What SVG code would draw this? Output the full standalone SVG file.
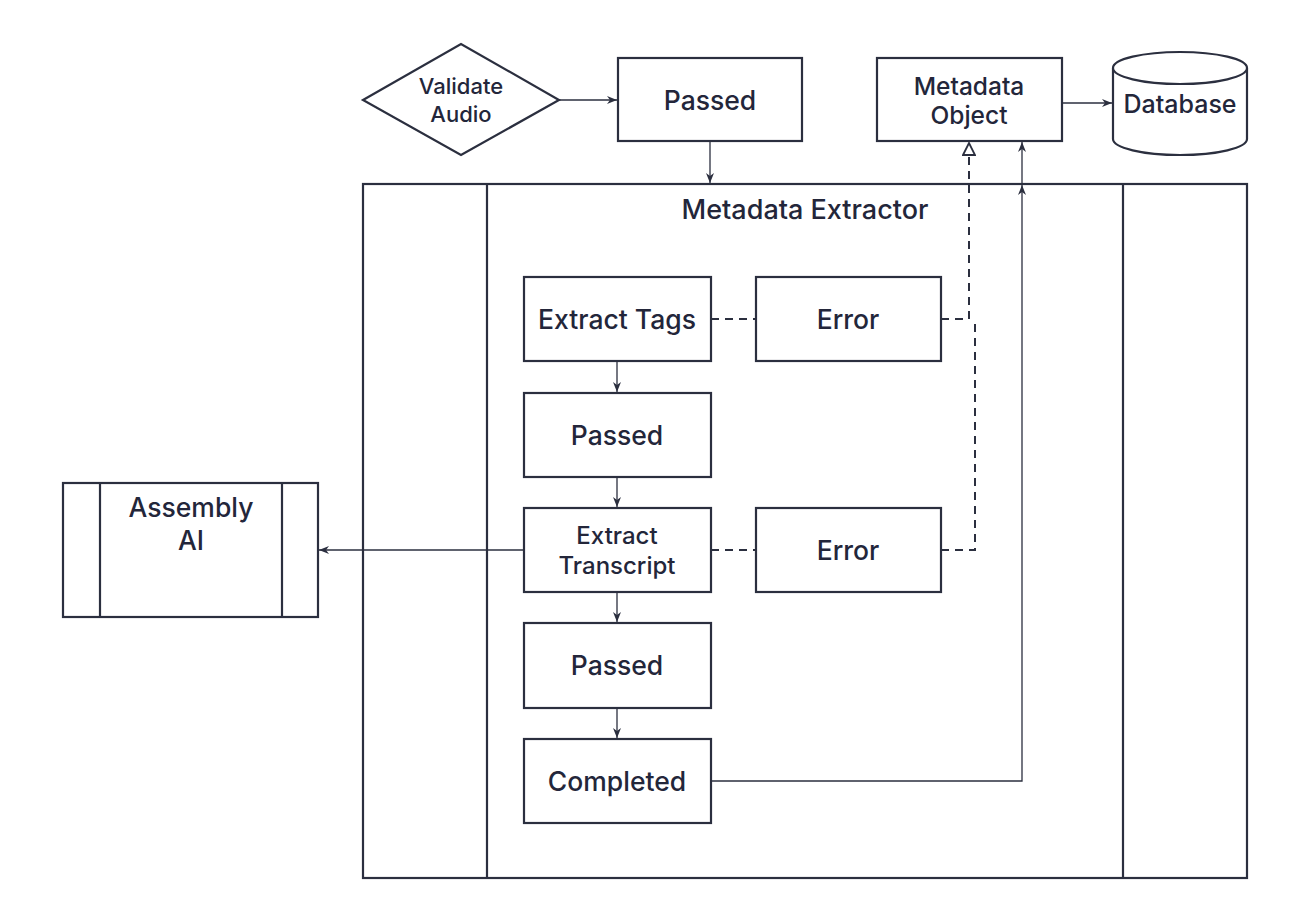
<svg xmlns="http://www.w3.org/2000/svg" width="1304" height="921" viewBox="0 0 1304 921">
<defs>
<style>
.n{fill:#fff;stroke:#2b2f3f;stroke-width:2.2}
.c{fill:none;stroke:#2b2f3f;stroke-width:1.3}
.d{fill:none;stroke:#2b2f3f;stroke-width:2;stroke-dasharray:8 6}
.t{font-family:Inter,"Noto Sans","Liberation Sans",sans-serif;font-weight:500;fill:#23263a;text-anchor:middle;dominant-baseline:central}
</style>
<marker id="a" viewBox="0 0 10 10" refX="10" refY="5" markerWidth="10" markerHeight="10" markerUnits="userSpaceOnUse" orient="auto">
<path d="M0,1 L10,5 L0,9 L3,5 Z" fill="#2b2f3f"/>
</marker>
<marker id="h" viewBox="0 0 14 14" refX="13" refY="7" markerWidth="14" markerHeight="14" markerUnits="userSpaceOnUse" orient="auto">
<path d="M1,1 L13,7 L1,13 Z" fill="#fff" stroke="#2b2f3f" stroke-width="1.8"/>
</marker>
</defs>
<rect width="1304" height="921" fill="#fff"/>

<g id="metadata-extractor">
<rect class="n" x="363" y="184" width="884" height="694"/>
<line class="n" x1="487" y1="184" x2="487" y2="878"/>
<line class="n" x1="1123" y1="184" x2="1123" y2="878"/>
<text class="t" x="805" y="209" font-size="27">Metadata Extractor</text>
</g>

<g id="validate-audio">
<polygon class="n" points="363,100 461,44 559,100 461,155"/>
<text class="t" x="461" y="86" font-size="22">Validate</text>
<text class="t" x="461" y="114" font-size="22">Audio</text>
</g>

<g id="passed-top">
<rect class="n" x="618" y="58" width="184" height="83"/>
<text class="t" x="710" y="100" font-size="26.5">Passed</text>
</g>

<g id="metadata-object">
<rect class="n" x="877" y="58" width="185" height="83"/>
<text class="t" x="969" y="86" font-size="24.5">Metadata</text>
<text class="t" x="969" y="115" font-size="24.5">Object</text>
</g>

<g id="database">
<path class="n" d="M1113,68 A67,16 0 0 1 1247,68 V139 A67,16 0 0 1 1113,139 Z"/>
<path class="n" d="M1113,68 A67,16 0 0 0 1247,68" fill="none"/>
<text class="t" x="1180" y="104" font-size="25">Database</text>
</g>

<g id="extract-tags">
<rect class="n" x="524" y="277" width="187" height="84"/>
<text class="t" x="617" y="319" font-size="26.5">Extract Tags</text>
</g>

<g id="error-1">
<rect class="n" x="756" y="277" width="185" height="84"/>
<text class="t" x="848" y="319" font-size="26.5">Error</text>
</g>

<g id="passed-1">
<rect class="n" x="524" y="393" width="187" height="84"/>
<text class="t" x="617" y="435" font-size="26.5">Passed</text>
</g>

<g id="extract-transcript">
<rect class="n" x="524" y="508" width="187" height="84"/>
<text class="t" x="617" y="535" font-size="24">Extract</text>
<text class="t" x="617" y="565" font-size="24">Transcript</text>
</g>

<g id="error-2">
<rect class="n" x="756" y="508" width="185" height="84"/>
<text class="t" x="848" y="550" font-size="26.5">Error</text>
</g>

<g id="passed-2">
<rect class="n" x="524" y="623" width="187" height="85"/>
<text class="t" x="617" y="665" font-size="26.5">Passed</text>
</g>

<g id="completed">
<rect class="n" x="524" y="739" width="187" height="84"/>
<text class="t" x="617" y="781" font-size="26.5">Completed</text>
</g>

<g id="assembly-ai">
<rect class="n" x="63" y="483" width="255" height="134"/>
<line class="n" x1="100" y1="483" x2="100" y2="617"/>
<line class="n" x1="282" y1="483" x2="282" y2="617"/>
<text class="t" x="191" y="507" font-size="26.5">Assembly</text>
<text class="t" x="191" y="540" font-size="26.5">AI</text>
</g>

<g id="connectors">
<line class="c" x1="559" y1="100" x2="617" y2="100" marker-end="url(#a)"/>
<line class="c" x1="710" y1="141" x2="710" y2="183" marker-end="url(#a)"/>
<line class="c" x1="1062" y1="103" x2="1112" y2="103" marker-end="url(#a)"/>
<line class="c" x1="617" y1="361" x2="617" y2="392" marker-end="url(#a)"/>
<line class="c" x1="617" y1="477" x2="617" y2="507" marker-end="url(#a)"/>
<line class="c" x1="617" y1="592" x2="617" y2="622" marker-end="url(#a)"/>
<line class="c" x1="617" y1="708" x2="617" y2="738" marker-end="url(#a)"/>
<line class="c" x1="524" y1="550" x2="319" y2="550" marker-end="url(#a)"/>
<path class="c" d="M711,781 H1022 V185" marker-end="url(#a)"/>
<line class="c" x1="1022" y1="184" x2="1022" y2="142" marker-end="url(#a)"/>
<line class="d" x1="711" y1="319" x2="756" y2="319"/>
<line class="d" x1="711" y1="550" x2="756" y2="550"/>
<path class="d" d="M941,319 H969 V143" marker-end="url(#h)"/>
<path class="d" d="M941,550 H975 V319"/>
</g>
</svg>
